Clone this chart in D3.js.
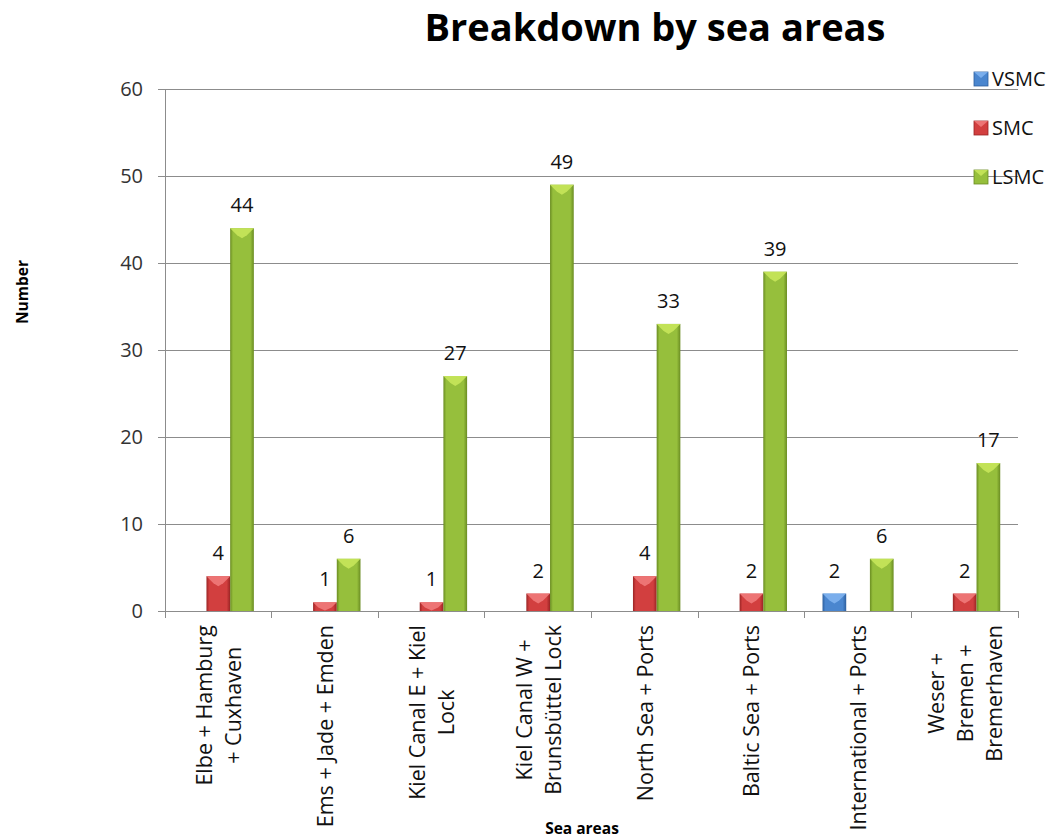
<!DOCTYPE html>
<html>
<head>
<meta charset="utf-8">
<script src="https://cdn.jsdelivr.net/npm/d3@7"></script>
<style>
  html, body { margin: 0; padding: 0; background: #fff; }
  svg { display: block; }
  text { font-family: "Open Sans", "Liberation Sans", sans-serif; }
</style>
</head>
<body>
<svg id="chart" width="1054" height="840"></svg>
<script>
// Sea areas (category labels, split into the lines shown under the axis)
const categories = [
  ["Elbe + Hamburg", "+ Cuxhaven"],
  ["Ems + Jade + Emden"],
  ["Kiel Canal E + Kiel", "Lock"],
  ["Kiel Canal W +", "Brunsbüttel Lock"],
  ["North Sea + Ports"],
  ["Baltic Sea + Ports"],
  ["International + Ports"],
  ["Weser +", "Bremen +", "Bremerhaven"]
];
const seriesNames = ["VSMC", "SMC", "LSMC"];
const vsmc = [0, 0, 0, 0, 0, 0, 2, 0];
const smc  = [4, 1, 1, 2, 4, 2, 0, 2];
const lsmc = [44, 6, 27, 49, 33, 39, 6, 17];
const yTicks = [0, 10, 20, 30, 40, 50, 60];

const seriesValues = [vsmc, smc, lsmc];
const palette = {
  VSMC: { mid: "#4a86cf", edge: "#2d5f9e", top: "#7fb2ee" },
  SMC:  { mid: "#d23f3f", edge: "#9a2424", top: "#f07a7a" },
  LSMC: { mid: "#96bf3c", edge: "#6a8c22", top: "#c6e65a" }
};

const svg = d3.select("#chart");
const margin = { left: 165, right: 1018, top: 89, bottom: 611 };

const x0 = d3.scaleBand()
  .domain(d3.range(categories.length))
  .range([margin.left, margin.right])
  .paddingInner(0)
  .paddingOuter(0);

// Excel-style gap: 1.5 bar widths shared between neighbouring groups
const x1 = d3.scaleBand()
  .domain(seriesNames)
  .range([0, x0.bandwidth()])
  .paddingInner(0)
  .paddingOuter(0.75);

const y = d3.scaleLinear().domain([0, 60]).range([margin.bottom, margin.top]);

// Gradients
const defs = svg.append("defs");
seriesNames.forEach(name => {
  const c = palette[name];
  const g = defs.append("linearGradient").attr("id", "grad-" + name)
    .attr("x1", "0").attr("x2", "1").attr("y1", "0").attr("y2", "0");
  g.append("stop").attr("offset", "0").attr("stop-color", c.edge);
  g.append("stop").attr("offset", "0.12").attr("stop-color", c.mid);
  g.append("stop").attr("offset", "0.85").attr("stop-color", c.mid);
  g.append("stop").attr("offset", "1").attr("stop-color", c.edge);
});

// Gridlines
svg.append("g").selectAll("line").data(yTicks.filter(d => d > 0)).join("line")
  .attr("x1", margin.left).attr("x2", margin.right)
  .attr("y1", d => y(d)).attr("y2", d => y(d))
  .attr("stroke", "#8c8c8c").attr("stroke-width", 1)
  .attr("shape-rendering", "crispEdges");

// Y axis
const yAxis = svg.append("g")
  .attr("transform", `translate(${margin.left},0)`)
  .call(d3.axisLeft(y).tickValues(yTicks).tickSize(7).tickSizeOuter(0));
yAxis.select(".domain").attr("stroke", "#8c8c8c");
yAxis.selectAll(".tick line").attr("stroke", "#8c8c8c");
yAxis.selectAll(".tick text")
  .attr("x", -22)
  .style("font-size", "20px").attr("fill", "#333")
  .style("font-family", "'Open Sans', sans-serif");

// X axis
const xAxis = svg.append("g")
  .attr("transform", `translate(0,${margin.bottom})`)
  .call(d3.axisBottom(x0).tickSize(0).tickFormat(""));
xAxis.select(".domain").attr("stroke", "#8c8c8c");
// group boundary tick marks
svg.append("g").selectAll("line")
  .data(d3.range(categories.length + 1)).join("line")
  .attr("x1", d => margin.left + d * x0.step())
  .attr("x2", d => margin.left + d * x0.step())
  .attr("y1", margin.bottom).attr("y2", margin.bottom + 7)
  .attr("stroke", "#8c8c8c").attr("shape-rendering", "crispEdges");

// Bars
const groups = svg.append("g").selectAll("g")
  .data(categories.map((c, i) => i)).join("g")
  .attr("transform", i => `translate(${x0(i)},0)`);

const bars = groups.selectAll("g.bar")
  .data(i => seriesNames.map((s, k) => ({ s, v: seriesValues[k][i] })).filter(d => d.v > 0))
  .join("g").attr("class", "bar");

bars.append("rect")
  .attr("x", d => x1(d.s))
  .attr("y", d => y(d.v))
  .attr("width", x1.bandwidth())
  .attr("height", d => y(0) - y(d.v))
  .attr("fill", d => `url(#grad-${d.s})`);

// bevelled top face
bars.append("path")
  .attr("d", d => {
    const bx = x1(d.s), bw = x1.bandwidth(), by = y(d.v);
    const h = Math.min(7, (y(0) - y(d.v)) * 0.6);
    return `M${bx},${by} L${bx + bw},${by} L${bx + bw - h},${by + h} L${bx + bw / 2},${by + h + 3} L${bx + h},${by + h} Z`;
  })
  .attr("fill", d => palette[d.s].top)
  .attr("opacity", 0.9);

// Value labels
bars.append("text")
  .attr("x", d => x1(d.s) + x1.bandwidth() / 2)
  .attr("y", d => y(d.v) - 16)
  .attr("text-anchor", "middle")
  .style("font-size", "20px").attr("fill", "#111")
  .text(d => d.v);

// Category labels (rotated, multi-line, top-anchored)
const labelTop = 625;
const lineGap = 29;
const labelSize = 21.5;
categories.forEach((lines, i) => {
  const cx = x0(i) + x0.bandwidth() / 2;
  const g = svg.append("g");
  const n = lines.length;
  const texts = lines.map(ln => g.append("text")
    .attr("text-anchor", "end")
    .style("font-size", labelSize + "px").attr("fill", "#111")
    .text(ln));
  const lens = texts.map(t => t.node().getComputedTextLength());
  const maxLen = d3.max(lens);
  texts.forEach((t, j) => {
    const off = (maxLen - lens[j]) / 2;
    t.attr("transform", `translate(${cx + (j - (n - 1) / 2) * lineGap + 8},${labelTop + off}) rotate(-90)`);
  });
});

// Title
svg.append("text")
  .attr("x", 655).attr("y", 41)
  .attr("text-anchor", "middle")
  .style("font-size", "38px").style("font-weight", "bold").attr("fill", "#000")
  .text("Breakdown by sea areas");

// Axis titles
svg.append("text")
  .attr("transform", "translate(28,292) rotate(-90)")
  .attr("text-anchor", "middle")
  .style("font-size", "15.5px").style("font-weight", "bold").attr("fill", "#000")
  .text("Number");

svg.append("text")
  .attr("x", 582).attr("y", 834)
  .attr("text-anchor", "middle")
  .style("font-size", "15.5px").style("font-weight", "bold").attr("fill", "#000")
  .text("Sea areas");

// Legend
const legend = svg.append("g").selectAll("g")
  .data(seriesNames).join("g")
  .attr("transform", (d, i) => `translate(974,${72 + i * 49})`);
legend.append("rect")
  .attr("width", 14).attr("height", 14)
  .attr("fill", d => palette[d].mid)
  .attr("stroke", d => palette[d].edge).attr("stroke-width", 0.8);
legend.append("path")
  .attr("d", "M0,0 L14,0 L7,6 Z")
  .attr("fill", d => palette[d].top).attr("opacity", 0.9);
legend.append("text")
  .attr("x", 18).attr("y", 14)
  .style("font-size", "20px").attr("fill", "#111")
  .text(d => d);
</script>
</body>
</html>
